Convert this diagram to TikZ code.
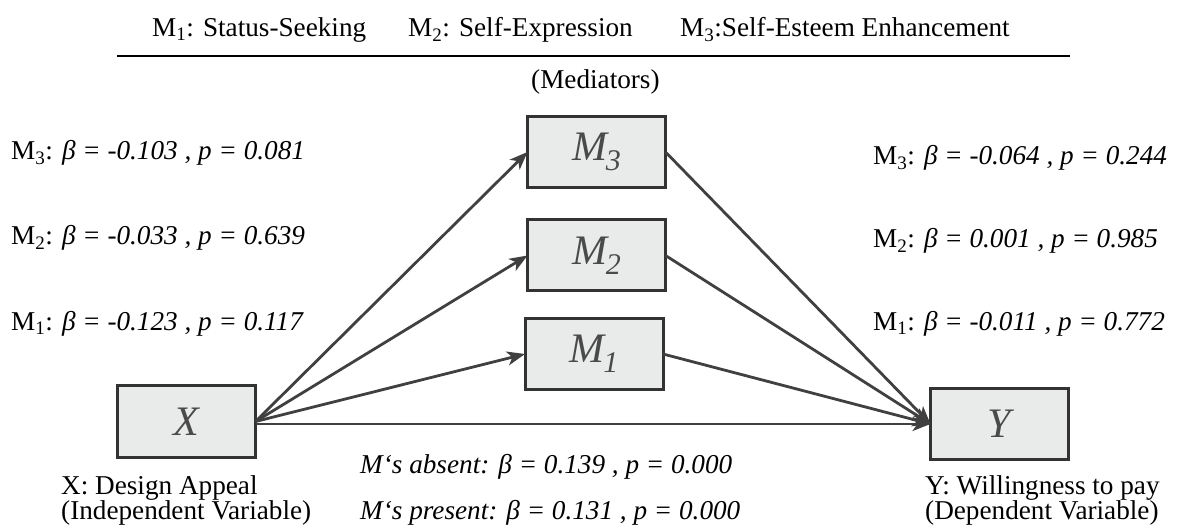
\documentclass[tikz,border=0pt]{standalone}
\usepackage{fontspec}
\setmainfont{Liberation Serif}
\usetikzlibrary{arrows.meta}
\definecolor{boxfill}{HTML}{E9EAEA}
\definecolor{boxline}{HTML}{333333}
\definecolor{arrowc}{HTML}{404040}
\definecolor{labgray}{HTML}{4A4A4A}
\newcommand{\boxlab}[2]{#1\kern-1pt\raisebox{-10pt}{\fontsize{30}{30}\selectfont #2}}
\begin{document}
\begin{tikzpicture}[x=1pt,y=-1pt,
  box/.style={draw=boxline, line width=3pt, fill=boxfill, minimum width=138pt, minimum height=71pt, inner sep=0pt, outer sep=0pt, font=\fontsize{42}{44}\selectfont\itshape, text=labgray},
  arr/.style={draw=arrowc, line width=2.8pt, -{Stealth[length=18pt,width=14pt,inset=5pt]}},
  lab/.style={anchor=base west, inner sep=0pt, font=\fontsize{27.2}{32}\selectfont},
  rule/.style={draw=black, line width=2pt}
]
\useasboundingbox (0,0) rectangle (1179,529);
% header
\node[lab] (h1) at (152,37) {M\textsubscript{1}: Status-Seeking};
\node[lab] (h2) at (408,37) {M\textsubscript{2}: Self-Expression};
\node[lab] (h3) at (680,37) {M\textsubscript{3}:Self-Esteem Enhancement};
\coordinate (hl) at (117,56);
\coordinate (hr) at (1070,56);
\draw[rule] (hl) -- (hr);
\node[lab] (med) at (531,89) {(Mediators)};
% boxes
\node[box] (M3) at (596.5,152) {\boxlab{M}{3}};
\node[box] (M2) at (596.5,255.5) {\boxlab{M}{2}};
\node[box] (M1) at (594,354) {\boxlab{M}{1}};
\node[box] (X) at (186.5,421.5) {X};
\node[box] (Y) at (999.5,424) {Y};
% arrows
\draw[arr] (X.east) -- (M3.west);
\draw[arr] (X.east) -- (M2.west);
\draw[arr] (X.east) -- (M1.west);
\draw[arr] (M3.east) -- (Y.west);
\draw[arr] (M2.east) -- (Y.west);
\draw[arr] (M1.east) -- (Y.west);
\draw[arr] (X.east |- Y.west) -- (Y.west);
% left labels
\node[lab] (l3) at (11,160) {M\textsubscript{3}: \textit{β = -0.103 , p = 0.081}};
\node[lab] (l2) at (11,245) {M\textsubscript{2}: \textit{β = -0.033 , p = 0.639}};
\node[lab] (l1) at (11,331) {M\textsubscript{1}: \textit{β = -0.123 , p = 0.117}};
% right labels
\node[lab] (r3) at (873,165) {M\textsubscript{3}: \textit{β = -0.064 , p = 0.244}};
\node[lab] (r2) at (873,248) {M\textsubscript{2}: \textit{β = 0.001 , p = 0.985}};
\node[lab] (r1) at (873,331) {M\textsubscript{1}: \textit{β = -0.011 , p = 0.772}};
% bottom labels
\node[lab] (xl1) at (61,494) {X: Design Appeal};
\node[lab] (xl2) at (61,519) {(Independent Variable)};
\node[lab] (yl1) at (925,494) {Y: Willingness to pay};
\node[lab] (yl2) at (925,519) {(Dependent Variable)};
\node[lab] (c1) at (360,474) {\textit{M‘s absent: β = 0.139 , p = 0.000}};
\node[lab] (c2) at (360,519) {\textit{M‘s present: β = 0.131 , p = 0.000}};
\end{tikzpicture}
\end{document}
